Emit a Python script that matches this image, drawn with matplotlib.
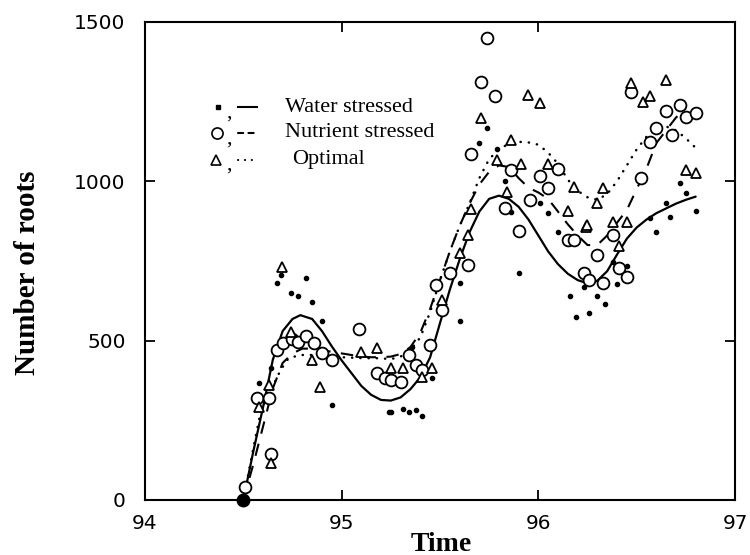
import numpy as np
import matplotlib.pyplot as plt
from matplotlib.lines import Line2D

# %%
# scatter data (time in years, number of roots)
water_t = [94.50, 94.58, 94.64, 94.67, 94.69, 94.74, 94.78, 94.82, 94.85, 94.90,
           94.95, 95.24, 95.25, 95.31, 95.34, 95.38, 95.41, 95.46, 95.36, 95.60,
           95.60, 95.70, 95.74, 95.79, 95.83, 95.86, 95.90, 96.01, 96.05, 96.10,
           96.16, 96.19, 96.23, 96.26, 96.30, 96.34, 96.38, 96.40, 96.45, 96.57,
           96.60, 96.65, 96.67, 96.72, 96.75, 96.80]
water_n = [0, 366, 414, 680, 706, 651, 641, 696, 622, 563,
           298, 277, 275, 285, 277, 282, 264, 382, 481, 563,
           680, 1121, 1166, 1100, 1001, 905, 711, 931, 901, 842,
           640, 573, 669, 586, 640, 615, 748, 678, 734, 884,
           842, 933, 889, 994, 962, 907]

nutr_t = [94.51, 94.57, 94.63, 94.64, 94.67, 94.70, 94.75, 94.78, 94.82, 94.86,
          94.90, 94.95, 95.09, 95.18, 95.22, 95.25, 95.30, 95.34, 95.38, 95.41,
          95.45, 95.48, 95.51, 95.55, 95.64, 95.66, 95.71, 95.74, 95.78, 95.83,
          95.86, 95.90, 95.96, 96.01, 96.05, 96.10, 96.15, 96.18, 96.23, 96.26,
          96.30, 96.33, 96.38, 96.41, 96.45, 96.47, 96.52, 96.57, 96.60, 96.65,
          96.68, 96.72, 96.75, 96.80]
nutr_n = [40, 320, 320, 144, 471, 492, 504, 497, 515, 492,
          462, 439, 537, 400, 383, 377, 371, 455, 424, 408,
          486, 675, 596, 711, 737, 1085, 1313, 1449, 1268, 915,
          1036, 845, 941, 1018, 978, 1039, 816, 816, 712, 690,
          769, 680, 832, 727, 701, 1281, 1009, 1124, 1166, 1222,
          1145, 1240, 1203, 1215]

opt_t = [94.58, 94.63, 94.64, 94.695, 94.74, 94.85, 94.89, 95.10, 95.18, 95.25,
         95.31, 95.41, 95.46, 95.51, 95.60, 95.64, 95.66, 95.71, 95.79, 95.84,
         95.86, 95.91, 95.95, 96.01, 96.05, 96.15, 96.18, 96.24, 96.25, 96.30,
         96.33, 96.38, 96.41, 96.45, 96.47, 96.53, 96.57, 96.65, 96.75, 96.80]
opt_n = [293, 361, 116, 732, 528, 439, 356, 463, 478, 413,
         413, 387, 414, 628, 775, 832, 912, 1198, 1067, 967,
         1130, 1053, 1271, 1245, 1054, 908, 983, 856, 863, 931,
         978, 873, 797, 873, 1307, 1250, 1268, 1318, 1036, 1027]

# fitted curves, points
water_fit_t = [94.50, 94.55, 94.60, 94.65, 94.70, 94.75, 94.79, 94.85, 94.90, 94.95,
               95.00, 95.05, 95.10, 95.15, 95.20, 95.25, 95.30, 95.35, 95.40, 95.45,
               95.50, 95.55, 95.60, 95.65, 95.70, 95.75, 95.80, 95.85, 95.90, 95.95,
               96.00, 96.05, 96.10, 96.15, 96.20, 96.25, 96.30, 96.35, 96.40, 96.45,
               96.50, 96.55, 96.60, 96.65, 96.70, 96.75, 96.80]
water_fit_n = [0, 150, 290, 440, 530, 568, 580, 568, 530, 482,
               438, 398, 358, 330, 314, 312, 322, 348, 385, 448,
               555, 660, 755, 840, 905, 945, 955, 945, 920, 880,
               830, 780, 740, 710, 690, 680, 688, 718, 770, 820,
               855, 880, 900, 915, 930, 942, 952]

nutr_fit_t = [94.50, 94.55, 94.60, 94.65, 94.70, 94.75, 94.80, 94.85, 94.90, 94.95,
              95.00, 95.05, 95.10, 95.15, 95.20, 95.25, 95.30, 95.35, 95.40, 95.45,
              95.50, 95.55, 95.60, 95.65, 95.70, 95.75, 95.80, 95.85, 95.90, 95.95,
              96.00, 96.05, 96.10, 96.15, 96.20, 96.25, 96.30, 96.35, 96.40, 96.45,
              96.50, 96.55, 96.60, 96.65, 96.70, 96.75]
nutr_fit_n = [0, 110, 230, 350, 430, 460, 475, 475, 470, 465,
              460, 455, 450, 448, 448, 450, 458, 480, 525, 600,
              690, 780, 860, 930, 990, 1030, 1050, 1045, 1010, 980,
              965, 945, 905, 865, 830, 800, 800, 830, 870, 910,
              975, 1040, 1120, 1160, 1200, 1230]

opt_fit_t = [94.50, 94.55, 94.59, 94.64, 94.69, 94.73, 94.79, 94.85, 94.94, 95.00,
             95.11, 95.19, 95.25, 95.30, 95.35, 95.40, 95.45, 95.50, 95.55, 95.60,
             95.65, 95.70, 95.75, 95.80, 95.85, 95.90, 95.95, 96.00, 96.05, 96.10,
             96.15, 96.20, 96.25, 96.30, 96.35, 96.40, 96.45, 96.50, 96.55, 96.60,
             96.65, 96.70, 96.75, 96.80]
opt_fit_n = [0, 160, 282, 345, 408, 445, 455, 455, 450, 448,
             445, 445, 442, 450, 471, 510, 590, 690, 780, 860,
             930, 1010, 1070, 1100, 1118, 1124, 1122, 1115, 1090, 1055,
             1005, 970, 950, 942, 960, 1000, 1050, 1100, 1140, 1165,
             1172, 1160, 1135, 1105]

legend_labels = ['Water stressed', 'Nutrient stressed', 'Optimal']

# %%
fig = plt.figure(figsize=(7.5, 5.55), dpi=100)
ax = fig.add_axes([0.1933, 0.0991, 0.7867, 0.8613])

# curves
ax.plot(water_fit_t, water_fit_n, color='black', lw=1.6, solid_capstyle='round')
ax.plot(nutr_fit_t, nutr_fit_n, color='black', lw=1.5, linestyle=(0, (6, 5)))
ax.plot(opt_fit_t, opt_fit_n, color='black', lw=1.8, linestyle=(0, (0.1, 3.2)),
        dash_capstyle='round')

# points
ax.plot(nutr_t, nutr_n, 'o', ms=8.5, mfc='white', mec='black', mew=1.3, ls='none')
ax.plot(opt_t, opt_n, '^', ms=7, mfc='white', mec='black', mew=1.3, ls='none')
ax.plot(water_t, water_n, 'o', ms=3, color='black', ls='none')
ax.plot(water_t[0], water_n[0], 'o', ms=9, color='black', clip_on=False)

ax.set_xlim(94, 97)
ax.set_ylim(0, 1500)
ax.set_xticks([94, 95, 96, 97])
ax.set_yticks([0, 500, 1000, 1500])

for s in ax.spines.values():
    s.set_linewidth(1.5)
ax.tick_params(direction='in', length=7, width=1.3, top=True, right=True,
               labelsize=14.5)
ax.tick_params(axis='x', pad=10)
ax.tick_params(axis='y', pad=14)

ax.set_xlabel('Time', fontfamily='Liberation Serif', fontweight='bold', fontsize=20)
ax.set_ylabel('Number of roots', fontfamily='Liberation Serif', fontweight='bold',
              fontsize=21)
ax.xaxis.set_label_coords(0.502, -0.066)
ax.yaxis.set_label_coords(-0.176, 0.475)

# hand drawn legend in axes coordinates
rows = [0.822, 0.768, 0.712]
ax.plot(0.124, rows[0], 's', ms=3.5, color='black', transform=ax.transAxes)
ax.plot(0.122, rows[1], 'o', ms=8, mfc='white', mec='black', mew=1.2,
        transform=ax.transAxes)
ax.plot(0.120, rows[2], '^', ms=7, mfc='white', mec='black', mew=1.2,
        transform=ax.transAxes)
styles = ['-', (0, (2.5, 2.5)), (0, (0.1, 3.2))]
for r, st in zip(rows, styles):
    ax.text(0.143, r - 0.012, ',', transform=ax.transAxes,
            fontfamily='Liberation Serif', fontsize=16, ha='center', va='center')
    ax.add_line(Line2D([0.157, 0.19], [r, r], transform=ax.transAxes,
                       color='black', lw=1.5, linestyle=st,
                       dash_capstyle='round'))
for r, lab in zip(rows, legend_labels):
    ax.text(0.237 + (0.012 if lab == 'Optimal' else 0), r, lab,
            transform=ax.transAxes, fontfamily='Liberation Serif', fontsize=16,
            va='center', ha='left')

plt.savefig('out.png', dpi=100)
